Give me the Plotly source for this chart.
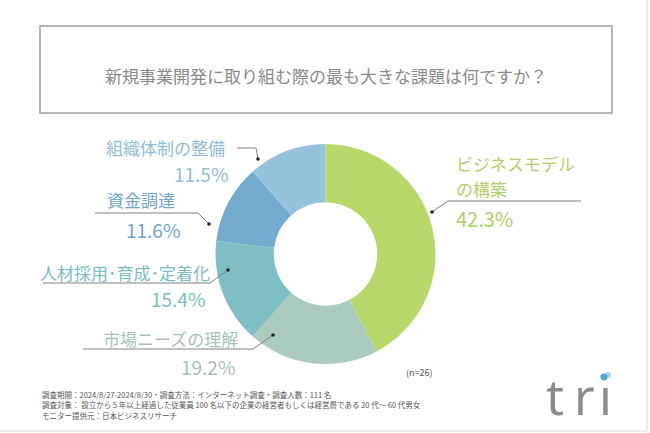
import plotly.graph_objects as go

W, H = 650, 433

categories = ["ビジネスモデルの構築", "市場ニーズの理解", "人材採用・育成・定着化", "資金調達", "組織体制の整備"]
values = [42.3, 19.2, 15.4, 11.6, 11.5]
slice_colors = ["#b9d86c", "#abcbbf", "#7fbfc3", "#74acd0", "#97c2db"]
text_colors = ["#afd06a", "#a6c3b8", "#7dbcbf", "#6fa6cb", "#92bcd6"]
pct_labels = [f"{v}%" for v in values]

title_text = "新規事業開発に取り組む際の最も大きな課題は何ですか？"
n_text = "(n=26)"
footer_lines = [
    "調査期間：2024/8/27-2024/8/30・調査方法：インターネット調査・調査人数：111 名",
    "調査対象： 設立から 5 年以上経過した従業員 100 名以下の企業の経営者もしくは経営層である 20 代～ 60 代男女",
    "モニター提供元：日本ビジネスリサーチ",
]

FONT = "Noto Sans CJK JP"


def px(x):
    return x / W


def py(y):
    return 1 - y / H


cx, cy, r = 325.5, 254, 110

fig = go.Figure()
fig.add_trace(go.Pie(
    labels=categories,
    values=values,
    sort=False,
    direction="clockwise",
    rotation=0,
    hole=0.47,
    marker=dict(colors=slice_colors, line=dict(width=0)),
    textinfo="none",
    hoverinfo="label+percent",
    showlegend=False,
    domain=dict(x=[px(cx - r), px(cx + r)], y=[py(cy + r), py(cy - r)]),
))

annotations = []
shapes = []

# Title box
shapes.append(dict(type="rect", xref="paper", yref="paper",
                   x0=px(40), x1=px(612), y0=py(113), y1=py(26),
                   line=dict(color="#a0a0a0", width=1.5)))
annotations.append(dict(text=title_text, x=px(326), y=py(75), xref="paper", yref="paper",
                        showarrow=False, xanchor="center", yanchor="middle",
                        font=dict(family=FONT, size=17, color="#8a8a8a")))

# Frame (light border)
shapes.append(dict(type="line", xref="paper", yref="paper", x0=px(0), x1=px(647), y0=py(431), y1=py(431),
                   line=dict(color="#e6e6e6", width=1.5)))
shapes.append(dict(type="line", xref="paper", yref="paper", x0=px(647), x1=px(647), y0=py(0), y1=py(431),
                   line=dict(color="#e6e6e6", width=1.5)))

label_specs = [
    # ビジネスモデルの構築
    dict(lines=[("ビジネスモデル", 454, 163.5), ("の構築", 454, 188)], anchor="left",
         pct=(454, 218), pct_size=20,
         leader=[(581, 201), (448, 201), (432, 212)]),
    # 市場ニーズの理解
    dict(lines=[("市場ニーズの理解", 240, 338)], anchor="right",
         pct=(237, 366), pct_size=19,
         leader=[(83, 349), (253, 349), (273, 335)]),
    # 人材採用・育成・定着化
    dict(lines=[("人材採用･育成･定着化", 212, 272)], anchor="right",
         pct=(207, 298), pct_size=19,
         leader=[(43, 283), (210, 283), (228, 270)]),
    # 資金調達
    dict(lines=[("資金調達", 177, 200)], anchor="right",
         pct=(182, 229), pct_size=19,
         leader=[(95, 213), (198, 213), (209, 224)]),
    # 組織体制の整備
    dict(lines=[("組織体制の整備", 227, 147)], anchor="right",
         pct=(230, 173), pct_size=19,
         leader=[(237, 148), (256, 148), (258, 159)]),
]

for i, spec in enumerate(label_specs):
    for txt, x, y in spec["lines"]:
        annotations.append(dict(text=txt, x=px(x), y=py(y), xref="paper", yref="paper",
                                showarrow=False, xanchor=spec["anchor"], yanchor="middle",
                                font=dict(family=FONT, size=17, color=text_colors[i])))
    annotations.append(dict(text=pct_labels[i], x=px(spec["pct"][0]), y=py(spec["pct"][1]),
                            xref="paper", yref="paper", showarrow=False,
                            xanchor=spec["anchor"], yanchor="middle",
                            font=dict(family=FONT, size=spec["pct_size"], color=text_colors[i])))
    pts = spec["leader"]
    path = "M " + " L ".join(f"{px(a)},{py(b)}" for a, b in pts)
    shapes.append(dict(type="path", xref="paper", yref="paper", path=path,
                       line=dict(color="#808080", width=1)))
    dx, dy = pts[-1]
    shapes.append(dict(type="circle", xref="paper", yref="paper",
                       x0=px(dx - 1.8), x1=px(dx + 1.8), y0=py(dy + 1.8), y1=py(dy - 1.8),
                       fillcolor="#222222", line=dict(width=0)))

# n label
annotations.append(dict(text=n_text, x=px(419), y=py(372), xref="paper", yref="paper",
                        showarrow=False, xanchor="center", yanchor="middle",
                        font=dict(family=FONT, size=9, color="#555555")))

# Footer
for k, line in enumerate(footer_lines):
    annotations.append(dict(text=line, x=px(40), y=py(394 + k * 10.5), xref="paper", yref="paper",
                            showarrow=False, xanchor="left", yanchor="middle",
                            font=dict(family=FONT, size=7.5, color="#555555")))

# Logo "tri"
for ch, x in [("t", 555), ("r", 584), ("ı", 605.5)]:
    annotations.append(dict(text=ch, x=px(x), y=py(396), xref="paper", yref="paper",
                            showarrow=False, xanchor="center", yanchor="middle",
                            font=dict(family="Noto Sans", size=50, color="#8c8c8c")))
shapes.append(dict(type="circle", xref="paper", yref="paper",
                   x0=px(605), x1=px(611), y0=py(378), y1=py(372),
                   fillcolor="#a9dbe6", line=dict(width=0)))
shapes.append(dict(type="circle", xref="paper", yref="paper",
                   x0=px(600.5), x1=px(607.5), y0=py(380.5), y1=py(373.5),
                   fillcolor="#4fa9cf", line=dict(width=0)))

fig.update_layout(
    width=W, height=H,
    margin=dict(l=0, r=0, t=0, b=0),
    paper_bgcolor="white",
    plot_bgcolor="white",
    annotations=annotations,
    shapes=shapes,
    font=dict(family=FONT),
)

fig.write_html("out.html", config={"displayModeBar": False},
               post_script="document.body.style.margin='0';document.body.style.overflow='hidden';")
